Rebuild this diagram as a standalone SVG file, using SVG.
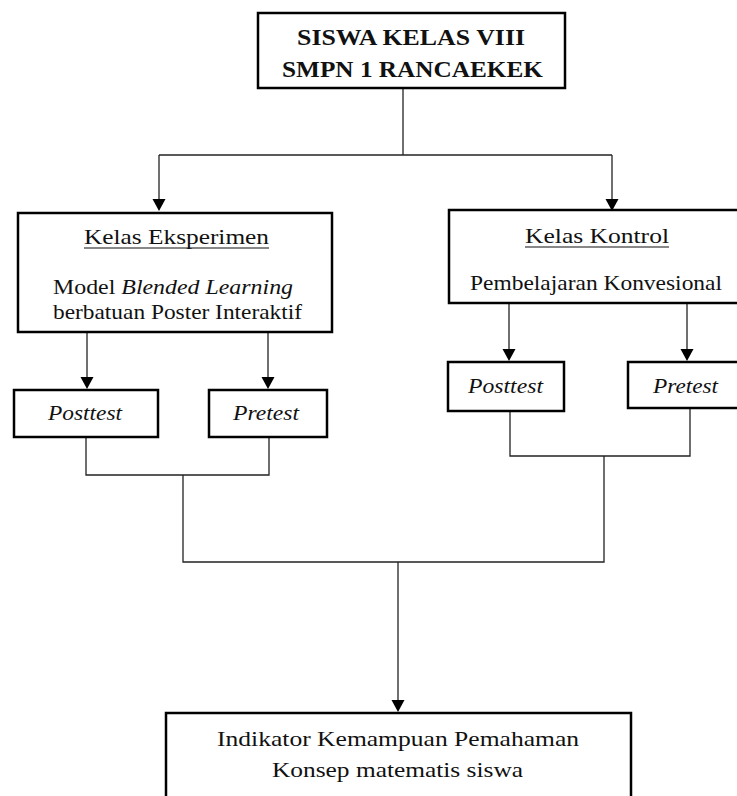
<svg xmlns="http://www.w3.org/2000/svg" width="737" height="796" viewBox="0 0 737 796">
<style>
.box{fill:#fff;stroke:#000;stroke-width:2.5}
.t{font-family:"Liberation Serif","Times New Roman",serif;font-size:20px;fill:#111;text-anchor:middle}
.b{font-weight:bold;font-size:22.5px}
.i{font-style:italic}
.c{fill:none;stroke:#222;stroke-width:1.3}
.ah{fill:#000}
.u{stroke:#111;stroke-width:1.2}
</style>
<rect width="737" height="796" fill="#fff"/>
<g id="connectors">
<path class="c" d="M403,88 V155"/>
<path class="c" d="M159,155 H612"/>
<path class="c" d="M159,155 V200"/>
<path class="ah" d="M152.5,199 L165.5,199 L159,211 Z"/>
<path class="c" d="M612,155 V200"/>
<path class="ah" d="M605.5,199 L618.5,199 L612,211 Z"/>
<path class="c" d="M87,332 V378"/>
<path class="ah" d="M80.5,377 L93.5,377 L87,389 Z"/>
<path class="c" d="M268,332 V378"/>
<path class="ah" d="M261.5,377 L274.5,377 L268,389 Z"/>
<path class="c" d="M509,303 V350"/>
<path class="ah" d="M502.5,349 L515.5,349 L509,361 Z"/>
<path class="c" d="M687,303 V350"/>
<path class="ah" d="M680.5,349 L693.5,349 L687,361 Z"/>
<path class="c" d="M86,437 V475 H269 V437"/>
<path class="c" d="M183,475 V562 H604 V456"/>
<path class="c" d="M510,411 V456 H690 V408"/>
<path class="c" d="M398,562 V701"/>
<path class="ah" d="M391.5,700 L404.5,700 L398,712 Z"/>
</g>
<g id="siswa">
<rect class="box" x="258" y="13" width="307" height="75"/>
<text class="t b" transform="translate(411,45) scale(1.2,1)" textLength="190" lengthAdjust="spacingAndGlyphs">SISWA KELAS VIII</text>
<text class="t b" transform="translate(412.5,77) scale(1.2,1)" textLength="217.5" lengthAdjust="spacingAndGlyphs">SMPN 1 RANCAEKEK</text>
</g>
<g id="eksperimen">
<rect class="box" x="18" y="213" width="314" height="119"/>
<text class="t" transform="translate(176.5,244) scale(1.2,1)" textLength="154.2" lengthAdjust="spacingAndGlyphs">Kelas Eksperimen</text>
<line class="u" x1="84" y1="248" x2="269" y2="248"/>
<text class="t" transform="translate(173,294) scale(1.2,1)" textLength="200" lengthAdjust="spacingAndGlyphs">Model <tspan class="i">Blended Learning</tspan></text>
<text class="t" transform="translate(177.5,319) scale(1.2,1)" textLength="207.5" lengthAdjust="spacingAndGlyphs">berbatuan Poster Interaktif</text>
</g>
<g id="kontrol">
<rect class="box" x="449" y="210" width="295" height="93"/>
<text class="t" transform="translate(597,243) scale(1.2,1)" textLength="120" lengthAdjust="spacingAndGlyphs">Kelas Kontrol</text>
<line class="u" x1="525" y1="247" x2="669" y2="247"/>
<text class="t" transform="translate(596,290) scale(1.2,1)" textLength="210" lengthAdjust="spacingAndGlyphs">Pembelajaran Konvesional</text>
</g>
<g id="posttest-eksperimen">
<rect class="box" x="14" y="390" width="144" height="47"/>
<text class="t i" transform="translate(85,420) scale(1.2,1)" textLength="61.7" lengthAdjust="spacingAndGlyphs">Posttest</text>
</g>
<g id="pretest-eksperimen">
<rect class="box" x="209" y="390" width="118" height="47"/>
<text class="t i" transform="translate(266,420) scale(1.2,1)" textLength="55" lengthAdjust="spacingAndGlyphs">Pretest</text>
</g>
<g id="posttest-kontrol">
<rect class="box" x="448" y="362" width="116" height="49"/>
<text class="t i" transform="translate(505.5,393) scale(1.2,1)" textLength="62.5" lengthAdjust="spacingAndGlyphs">Posttest</text>
</g>
<g id="pretest-kontrol">
<rect class="box" x="628" y="362" width="115" height="46"/>
<text class="t i" transform="translate(685.5,393) scale(1.2,1)" textLength="54.2" lengthAdjust="spacingAndGlyphs">Pretest</text>
</g>
<g id="indikator">
<rect class="box" x="166" y="713" width="465" height="95"/>
<text class="t" transform="translate(398,746) scale(1.2,1)" textLength="301.7" lengthAdjust="spacingAndGlyphs">Indikator Kemampuan Pemahaman</text>
<text class="t" transform="translate(397.5,777) scale(1.2,1)" textLength="209.2" lengthAdjust="spacingAndGlyphs">Konsep matematis siswa</text>
</g>
</svg>
